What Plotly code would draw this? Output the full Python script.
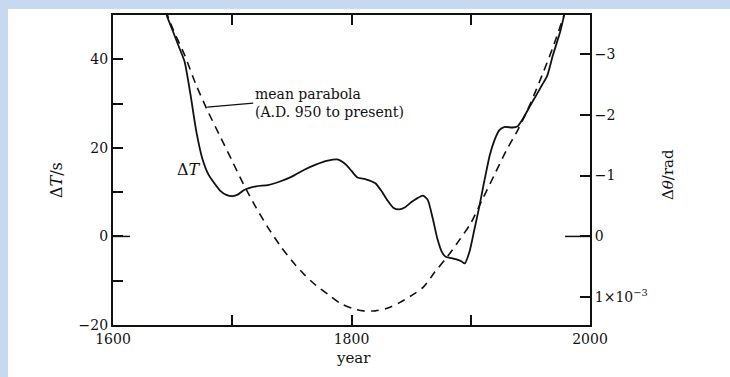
import plotly.graph_objects as go

# Observed ΔT (s), read at irregular epochs
dt_years = [1640, 1645, 1650, 1655, 1660, 1665, 1670, 1675, 1680, 1685, 1690, 1695,
            1700, 1705, 1710, 1720, 1730, 1740, 1750, 1760, 1770, 1780, 1788, 1795,
            1800, 1805, 1812, 1820, 1825, 1830, 1835, 1840, 1845, 1850, 1855, 1860,
            1864, 1868, 1872, 1876, 1879, 1884, 1888, 1892, 1895, 1899, 1903, 1907,
            1911, 1916, 1920, 1924, 1928, 1935, 1939, 1944, 1950, 1955, 1960, 1964,
            1969, 1975, 1979, 1982]
dt_values = [56, 50, 46.5, 43, 39.5, 32, 23.5, 17.5, 14, 12, 10.3, 9.4,
             9.1, 9.5, 10.5, 11.3, 11.6, 12.4, 13.5, 15, 16.2, 17.1, 17.4, 16.3,
             14.8, 13.3, 12.9, 12, 10.3, 8.2, 6.5, 6.1, 6.6, 7.7, 8.6, 9.2,
             8.2, 4.2, -0.5, -3.6, -4.6, -4.9, -5.2, -5.6, -6.1, -3.4, 1.5, 6.5,
             12, 18.4, 21.8, 24, 24.7, 24.6, 24.8, 26.7, 29.6, 31.9, 34.3, 36.2,
             41, 46.2, 50.7, 54]

# Mean parabola (A.D. 950 to present), sampled every 10 years
par_years = [1640, 1650, 1660, 1670, 1680, 1690, 1700, 1710, 1720, 1730, 1740, 1750,
             1760, 1770, 1780, 1790, 1800, 1810, 1820, 1830, 1840, 1850, 1860, 1870,
             1880, 1890, 1900, 1910, 1920, 1930, 1940, 1950, 1960, 1970, 1980, 1985]
par_values = [54, 47, 41, 34, 28, 22.5, 17, 11.5, 6.5, 2, -2, -5.5,
              -8.5, -11, -13, -15, -16.2, -16.8, -16.8, -16.2, -15, -13.4, -11.5, -8,
              -4.7, -1, 3, 8.5, 14, 19.5, 24.3, 30, 36.5, 43.5, 51.5, 56]

x_ticks = [1600, 1700, 1800, 1900, 2000]
x_labels = ["1600", "", "1800", "", "2000"]
y_ticks = [-20, -10, 0, 10, 20, 30, 40]
y_labels = ["\u221220", "", "0", "", "20", "", "40"]
theta_ticks = [-3, -2, -1, 0, 1]
theta_labels = ["\u22123", "\u22122", "\u22121", "0", "1\u00d710<sup>\u22123</sup>"]

DT_RANGE = [-20, 50]
SEC_PER_MRAD = 13.75  # 1e-3 rad of rotation angle in seconds of time

W, H = 730, 377
ML, MR, MT, MB = 113, 140, 15, 52
PW, PH = W - ML - MR, H - MT - MB

FONT = "DejaVu Serif"
INK = "#111111"

fig = go.Figure()

fig.add_trace(go.Scatter(
    x=par_years, y=par_values, mode="lines",
    line=dict(color=INK, width=1.6, dash="8px,6px", shape="spline", smoothing=0.8),
    hoverinfo="skip", showlegend=False))

fig.add_trace(go.Scatter(
    x=dt_years, y=dt_values, mode="lines",
    line=dict(color=INK, width=1.8, shape="spline", smoothing=0.6),
    hoverinfo="skip", showlegend=False))

# keeps the Δθ axis attached to the plot
fig.add_trace(go.Scatter(x=[None], y=[None], yaxis="y2", mode="lines",
                         hoverinfo="skip", showlegend=False))


def px_x(p):
    return (p - ML) / PW


def px_y(p):
    return (H - MB - p) / PH


annotations = [
    dict(text="\u0394<i>T</i>/s", xref="paper", yref="paper",
         x=px_x(56), y=px_y(180), textangle=-90, showarrow=False,
         xanchor="center", yanchor="middle",
         font=dict(family=FONT, size=16, color=INK)),
    dict(text="\u0394<i>\u03b8</i>/rad", xref="paper", yref="paper",
         x=px_x(668), y=px_y(175), textangle=-90, showarrow=False,
         xanchor="center", yanchor="middle",
         font=dict(family=FONT, size=15, color=INK)),
    dict(text="year", xref="paper", yref="paper",
         x=px_x(353), y=px_y(358), showarrow=False,
         xanchor="center", yanchor="middle",
         font=dict(family=FONT, size=15, color=INK)),
    dict(text="\u0394<i>T</i>", xref="paper", yref="paper",
         x=px_x(189), y=px_y(169), showarrow=False,
         xanchor="center", yanchor="middle",
         font=dict(family=FONT, size=16, color=INK)),
    dict(text="mean parabola<br>(A.D. 950 to present)", align="left",
         xref="x", yref="y", x=1679, y=29.2,
         ax=253 - 207, ay=103 - 107, xanchor="left", yanchor="middle",
         showarrow=True, arrowhead=0, arrowwidth=1.4, arrowcolor=INK,
         font=dict(family=FONT, size=14, color=INK)),
]

shapes = [
    # page frame: white sheet over the tinted backdrop
    dict(type="rect", xref="paper", yref="paper", layer="below",
         x0=px_x(8), x1=px_x(W + 10), y0=px_y(H + 10), y1=px_y(9),
         fillcolor="white", line=dict(width=0)),
    # longer zero ticks on both vertical axes
    dict(type="line", xref="paper", yref="y", x0=0, x1=17 / PW, y0=0, y1=0,
         line=dict(color=INK, width=1.5)),
    dict(type="line", xref="paper", yref="y", x0=1 - 25 / PW, x1=1, y0=0, y1=0,
         line=dict(color=INK, width=1.5)),
]

fig.update_layout(
    width=W, height=H,
    margin=dict(l=ML, r=MR, t=MT, b=MB, pad=0),
    paper_bgcolor="#c6d9f0",
    plot_bgcolor="rgba(0,0,0,0)",
    showlegend=False,
    font=dict(family=FONT, size=14, color=INK),
    xaxis=dict(range=[1600, 2000], tickvals=x_ticks, ticktext=x_labels,
               ticks="inside", ticklen=10, tickwidth=1.5, tickcolor=INK,
               showline=True, linewidth=2, linecolor=INK, mirror="ticks",
               showgrid=False, zeroline=False,
               tickfont=dict(family=FONT, size=14, color=INK)),
    yaxis=dict(range=DT_RANGE, tickvals=y_ticks, ticktext=y_labels,
               ticks="inside", ticklen=10, tickwidth=1.5, tickcolor=INK,
               showline=True, linewidth=2.2, linecolor=INK,
               showgrid=False, zeroline=False,
               tickfont=dict(family=FONT, size=14, color=INK)),
    yaxis2=dict(overlaying="y", side="right",
                range=[-DT_RANGE[0] / SEC_PER_MRAD, -DT_RANGE[1] / SEC_PER_MRAD],
                tickvals=theta_ticks, ticktext=theta_labels,
                ticks="inside", ticklen=10, tickwidth=1.5, tickcolor=INK,
                showline=True, linewidth=2, linecolor=INK,
                showgrid=False, zeroline=False,
                tickfont=dict(family=FONT, size=14, color=INK)),
    annotations=annotations,
    shapes=shapes,
)

fig.write_html("out.html")
